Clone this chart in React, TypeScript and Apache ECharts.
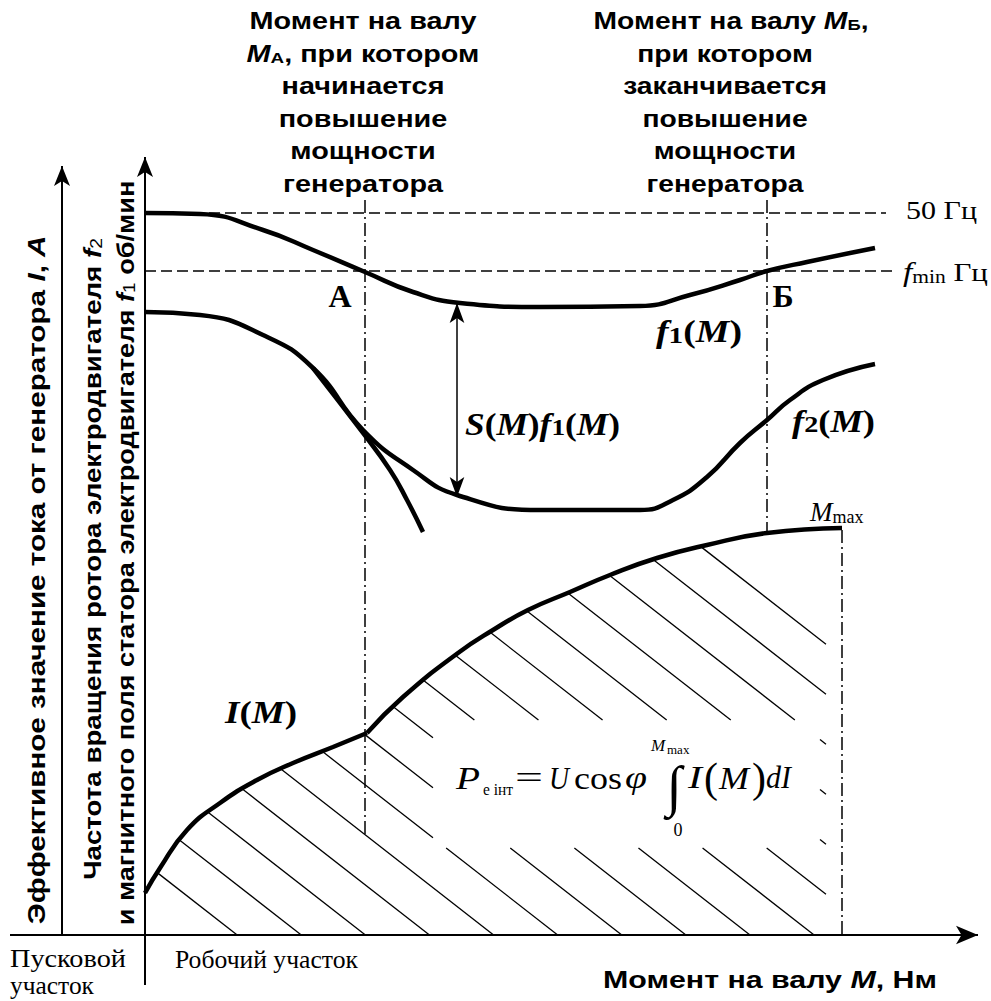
import React, { useEffect, useRef } from "react";
import * as echarts from "echarts";

const W = 991;
const H = 1001;

// ---- layout frame (x: shaft torque M, y: chart level, downward) ----
const AXIS_Y = 935;
const I_AXIS_X = 62;
const F_AXIS_X = 145;
const F50 = 213;
const FMIN = 271;
const M_A = 365;
const M_B = 767;
const M_MAX = 842;

// ---- curves ----
const f1Curve = [
  [145, 213], [200, 214], [263, 230], [313, 250], [365, 272], [413, 292], [460, 303],
  [540, 307], [640, 306], [690, 295], [740, 280], [767, 271], [807, 262], [875, 248],
];
const f2Curve = [
  [145, 312], [200, 315], [263, 335], [313, 368], [363, 430], [413, 470], [457, 495],
  [540, 510], [640, 510], [673, 500], [707, 477], [740, 443], [767, 420], [790, 400],
  [823, 380], [875, 364],
];
const f2Tangent = [[313, 368], [363, 433], [390, 470], [407, 500], [423, 532]];
const iCurveLow = [
  [145, 893], [160, 868], [187, 830], [220, 803], [257, 780], [293, 763], [333, 747], [367, 733],
];
const iCurveHigh = [
  [367, 733], [403, 697], [458, 653], [493, 630], [528, 610], [570, 592], [610, 575],
  [657, 558], [707, 545], [767, 533], [842, 528],
];

// ---- hatching of the area under I(M) ----
const HATCH_SLOPE = 0.78;
const HATCH_OFFSETS = [750, 700, 650, 600, 550, 500, 450, 400, 350, 300, 250, 200, 150, 100, 50, 0];
const HATCH_RIGHT = 826;
const FORMULA_BOX = [433, 720, 820, 848];

const SANS = '"Liberation Sans", Arial, sans-serif';
const SERIF = '"Liberation Serif", "Times New Roman", serif';

function hatchSegments() {
  const curve = iCurveLow.concat(iCurveHigh.slice(1));
  const segs: number[][] = [];
  for (const c of HATCH_OFFSETS) {
    let xs: number | null = null;
    for (let i = 0; i < curve.length - 1; i++) {
      const [x0, y0] = curve[i];
      const [x1, y1] = curve[i + 1];
      const d0 = HATCH_SLOPE * x0 + c - y0;
      const d1 = HATCH_SLOPE * x1 + c - y1;
      if (d0 <= 0 && d1 >= 0 && d0 !== d1) {
        xs = x0 + (d0 / (d0 - d1)) * (x1 - x0);
        break;
      }
    }
    if (xs === null) continue;
    const xe = Math.min((AXIS_Y - c) / HATCH_SLOPE, HATCH_RIGHT);
    if (xe <= xs) continue;
    const [bx0, by0, bx1, by1] = FORMULA_BOX;
    const ca = Math.max(bx0, (by0 - c) / HATCH_SLOPE);
    const cb = Math.min(bx1, (by1 - c) / HATCH_SLOPE);
    const pieces: number[][] = [];
    if (ca < cb && cb > xs && ca < xe) {
      if (ca > xs) pieces.push([xs, ca]);
      if (cb < xe) pieces.push([cb, xe]);
    } else pieces.push([xs, xe]);
    for (const [a, b] of pieces) segs.push([a, HATCH_SLOPE * a + c, b, HATCH_SLOPE * b + c]);
  }
  return segs;
}

// ---- text helpers ----
type St = { fontSize: number; fontFamily: string; fontWeight?: string; fontStyle?: string; verticalAlign?: string };
type Tok = { t: string; st?: string };

let measureCtx: CanvasRenderingContext2D | null = null;
function fontOf(s: St) {
  return `${s.fontStyle || "normal"} ${s.fontWeight || "normal"} ${s.fontSize}px ${s.fontFamily}`;
}
function measure(toks: Tok[], base: St, rich: Record<string, St>) {
  if (!measureCtx) measureCtx = document.createElement("canvas").getContext("2d");
  let w = 0;
  for (const tk of toks) {
    const s = tk.st ? rich[tk.st] : base;
    measureCtx!.font = fontOf(s);
    w += measureCtx!.measureText(tk.t).width;
  }
  return w;
}
function richStyles(r: Record<string, St>) {
  const out: any = {};
  for (const k of Object.keys(r)) out[k] = { ...r[k], fill: "#000", verticalAlign: r[k].verticalAlign || "bottom" };
  return out;
}
function textEl(o: {
  x: number; y: number; toks: Tok[]; base: St; rich?: Record<string, St>;
  align?: string; rotation?: number; width?: number; scaleX?: number;
}) {
  const rich = o.rich || {};
  let scaleX = o.scaleX || 1;
  if (o.width) scaleX = o.width / measure(o.toks, o.base, rich);
  return {
    type: "text",
    x: o.x,
    y: o.y,
    rotation: o.rotation || 0,
    scaleX,
    z: 50,
    silent: true,
    style: {
      text: o.toks.map((t) => (t.st ? `{${t.st}|${t.t}}` : t.t)).join(""),
      rich: richStyles(rich),
      fill: "#000",
      fontSize: o.base.fontSize,
      fontFamily: o.base.fontFamily,
      fontWeight: o.base.fontWeight || "normal",
      fontStyle: o.base.fontStyle || "normal",
      align: o.align || "left",
      verticalAlign: "middle",
    },
  };
}

// ---- text content ----
const topLeftLines: Tok[][] = [
  [{ t: "Момент на валу" }],
  [{ t: "M", st: "bi" }, { t: "А", st: "sub" }, { t: ", при котором" }],
  [{ t: "начинается" }],
  [{ t: "повышение" }],
  [{ t: "мощности" }],
  [{ t: "генератора" }],
];
const topRightLines: Tok[][] = [
  [{ t: "Момент на валу " }, { t: "M", st: "bi" }, { t: "Б", st: "sub" }, { t: "," }],
  [{ t: "при котором" }],
  [{ t: "заканчивается" }],
  [{ t: "повышение" }],
  [{ t: "мощности" }],
  [{ t: "генератора" }],
];
const TOP_LINE_Y = [21, 54, 86, 119, 151, 184];
const axisTitleI: Tok[] = [
  { t: "Эффективное значение тока от генератора " }, { t: "I", st: "bi" }, { t: ", " }, { t: "A", st: "bi" },
];
const axisTitleF2: Tok[] = [
  { t: "Частота вращения ротора электродвигателя " }, { t: "f", st: "bi" }, { t: "2", st: "sub" },
];
const axisTitleF1: Tok[] = [
  { t: "и магнитного поля статора электродвигателя " }, { t: "f", st: "bi" }, { t: "1", st: "sub" }, { t: " об/мин" },
];
const axisTitleM: Tok[] = [{ t: "Момент на валу " }, { t: "M", st: "bi" }, { t: ", Нм" }];

function buildGraphics() {
  const sansB: St = { fontSize: 23, fontFamily: SANS, fontWeight: "bold" };
  const sansRich: Record<string, St> = {
    bi: { fontSize: 23, fontFamily: SANS, fontWeight: "bold", fontStyle: "italic" },
    sub: { fontSize: 15, fontFamily: SANS, fontWeight: "bold" },
  };
  const els: any[] = [];
  const sL = 227 / measure(topLeftLines[0], sansB, sansRich);
  topLeftLines.forEach((toks, i) =>
    els.push(textEl({ x: 363, y: TOP_LINE_Y[i], toks, base: sansB, rich: sansRich, align: "center", scaleX: sL }))
  );
  const sR = 275 / measure(topRightLines[0], sansB, sansRich);
  topRightLines.forEach((toks, i) =>
    els.push(textEl({ x: i === 0 ? 731 : 725, y: TOP_LINE_Y[i], toks, base: sansB, rich: sansRich, align: "center", scaleX: sR }))
  );

  const vB: St = { fontSize: 23, fontFamily: SANS, fontWeight: "bold" };
  const vRich: Record<string, St> = {
    bi: { fontSize: 23, fontFamily: SANS, fontWeight: "bold", fontStyle: "italic" },
    sub: { fontSize: 16, fontFamily: SANS, fontWeight: "normal" },
  };
  els.push(textEl({ x: 37, y: 580, toks: axisTitleI, base: vB, rich: vRich, align: "center", rotation: Math.PI / 2, width: 689 }));
  els.push(textEl({ x: 93, y: 559, toks: axisTitleF2, base: vB, rich: vRich, align: "center", rotation: Math.PI / 2, width: 642 }));
  els.push(textEl({ x: 126, y: 553, toks: axisTitleF1, base: vB, rich: vRich, align: "center", rotation: Math.PI / 2, width: 745 }));

  const mB: St = { fontSize: 23, fontFamily: SANS, fontWeight: "bold" };
  els.push(textEl({ x: 770, y: 980, toks: axisTitleM, base: mB, rich: { bi: { ...mB, fontStyle: "italic" } }, align: "center", width: 334 }));

  const serif26: St = { fontSize: 25, fontFamily: SERIF };
  els.push(textEl({ x: 10, y: 959, toks: [{ t: "Пусковой" }], base: serif26, width: 116 }));
  els.push(textEl({ x: 10, y: 986, toks: [{ t: "участок" }], base: serif26, width: 84 }));
  els.push(textEl({ x: 175, y: 959, toks: [{ t: "Робочий участок" }], base: serif26, width: 183 }));

  // level labels
  els.push(textEl({ x: 906, y: 210, toks: [{ t: "50 Гц" }], base: { fontSize: 26, fontFamily: SERIF }, width: 71 }));
  els.push(textEl({
    x: 903, y: 272,
    toks: [{ t: "f", st: "i" }, { t: "min", st: "sub" }, { t: " Гц" }],
    base: { fontSize: 26, fontFamily: SERIF },
    rich: { i: { fontSize: 28, fontFamily: SERIF, fontStyle: "italic" }, sub: { fontSize: 18, fontFamily: SERIF } },
    width: 85,
  }));

  // point labels
  const pB: St = { fontSize: 32, fontFamily: SERIF, fontWeight: "bold" };
  els.push(textEl({ x: 340, y: 296, toks: [{ t: "А" }], base: pB, align: "center" }));
  els.push(textEl({ x: 783, y: 296, toks: [{ t: "Б" }], base: pB, align: "center" }));

  const lb: St = { fontSize: 31, fontFamily: SERIF, fontWeight: "bold" };
  const lbRich: Record<string, St> = {
    bi: { fontSize: 31, fontFamily: SERIF, fontWeight: "bold", fontStyle: "italic" },
    s: { fontSize: 24, fontFamily: SERIF, fontWeight: "bold" },
  };
  const fn = (n: string): Tok[] => [{ t: "f", st: "bi" }, { t: n, st: "s" }, { t: "(" }, { t: "M", st: "bi" }, { t: ")" }];
  els.push(textEl({ x: 656, y: 331, toks: fn("1"), base: lb, rich: lbRich, width: 86 }));
  els.push(textEl({ x: 465, y: 424, toks: [{ t: "S", st: "bi" }, { t: "(" }, { t: "M", st: "bi" }, { t: ")" }, ...fn("1")], base: lb, rich: lbRich, width: 155 }));
  els.push(textEl({ x: 792, y: 421, toks: fn("2"), base: lb, rich: lbRich, width: 83 }));
  els.push(textEl({ x: 225, y: 713, toks: [{ t: "I", st: "bi" }, { t: "(" }, { t: "M", st: "bi" }, { t: ")" }], base: lb, rich: lbRich, width: 72 }));

  els.push(textEl({
    x: 810, y: 512,
    toks: [{ t: "M", st: "i" }, { t: "max", st: "sub" }],
    base: { fontSize: 26, fontFamily: SERIF },
    rich: { i: { fontSize: 27, fontFamily: SERIF, fontStyle: "italic" }, sub: { fontSize: 18, fontFamily: SERIF } },
  }));

  // formula
  const fi: St = { fontSize: 31, fontFamily: SERIF, fontStyle: "italic" };
  const fr: St = { fontSize: 31, fontFamily: SERIF };
  const FY = 778;
  els.push(textEl({ x: 456, y: FY, toks: [{ t: "P" }], base: fi, width: 24 }));
  els.push(textEl({ x: 483, y: 790, toks: [{ t: "e інт" }], base: { fontSize: 17, fontFamily: SERIF }, width: 30 }));
  els.push(textEl({ x: 515, y: FY, toks: [{ t: "=" }], base: fr, width: 28 }));
  els.push(textEl({ x: 549, y: FY, toks: [{ t: "U" }], base: fi, width: 20 }));
  els.push(textEl({ x: 574, y: FY, toks: [{ t: "cos" }], base: fr, width: 48 }));
  els.push(textEl({ x: 625, y: FY, toks: [{ t: "φ" }], base: fi, width: 22 }));
  els.push(textEl({ x: 674, y: 786, toks: [{ t: "∫" }], base: { fontSize: 56, fontFamily: SERIF }, align: "center" }));
  els.push(textEl({ x: 651, y: 745, toks: [{ t: "M" }], base: { fontSize: 17, fontFamily: SERIF, fontStyle: "italic" } }));
  els.push(textEl({ x: 667, y: 749, toks: [{ t: "max" }], base: { fontSize: 13, fontFamily: SERIF } }));
  els.push(textEl({ x: 678, y: 830, toks: [{ t: "0" }], base: { fontSize: 18, fontFamily: SERIF }, align: "center" }));
  els.push(textEl({ x: 688, y: FY, toks: [{ t: "I" }], base: fi, width: 14 }));
  els.push(textEl({ x: 704, y: FY, toks: [{ t: "(" }], base: { fontSize: 42, fontFamily: SERIF } }));
  els.push(textEl({ x: 719, y: FY, toks: [{ t: "M" }], base: fi, width: 30 }));
  els.push(textEl({ x: 752, y: FY, toks: [{ t: ")" }], base: { fontSize: 42, fontFamily: SERIF } }));
  els.push(textEl({ x: 766, y: FY, toks: [{ t: "dI" }], base: fi, width: 25 }));
  return els;
}

// ---- straight guide segments ----
const AXIS_STYLE = { color: "#000", width: 2, type: "solid" };
const DASH_STYLE = { color: "#000", width: 1.5, type: [11, 5] };
const DASHDOT_STYLE = { color: "#000", width: 1.5, type: [13, 4, 2, 4] };
const THIN_STYLE = { color: "#000", width: 1.5, type: "solid" };

function seg(a: number[], b: number[], lineStyle: any, s0 = "none", s1 = "none", size: number[] = [12, 18]) {
  return [
    { coord: a, symbol: s0, symbolSize: size, lineStyle },
    { coord: b, symbol: s1, symbolSize: size, lineStyle },
  ];
}

function buildOption() {
  const curveStyle = { color: "#000", width: 4.5 };
  const lineSeries = (name: string, data: number[][], smooth = 0.5) => ({
    name,
    type: "line",
    data,
    smooth,
    symbol: "none",
    lineStyle: curveStyle,
    z: 5,
    silent: true,
  });
  return {
    animation: false,
    grid: { left: 0, right: 0, top: 0, bottom: 0, containLabel: false },
    xAxis: { type: "value", min: 0, max: W, show: false },
    yAxis: { type: "value", min: 0, max: H, inverse: true, show: false },
    series: [
      {
        name: "hatch",
        type: "custom",
        data: hatchSegments(),
        encode: { x: [0, 2], y: [1, 3] },
        silent: true,
        z: 2,
        renderItem: (_p: any, api: any) => {
          const a = api.coord([api.value(0), api.value(1)]);
          const b = api.coord([api.value(2), api.value(3)]);
          return {
            type: "line",
            shape: { x1: a[0], y1: a[1], x2: b[0], y2: b[1] },
            style: { stroke: "#000", lineWidth: 1.3 },
          };
        },
      },
      lineSeries("f1", f1Curve),
      lineSeries("f2", f2Curve),
      lineSeries("f2 tangent", f2Tangent),
      lineSeries("I low", iCurveLow),
      lineSeries("I high", iCurveHigh),
      {
        name: "guides",
        type: "line",
        data: [[0, 0]],
        symbol: "none",
        lineStyle: { opacity: 0 },
        silent: true,
        z: 3,
        markLine: {
          silent: true,
          animation: false,
          label: { show: false },
          emphasis: { disabled: true },
          data: [
            seg([10, AXIS_Y], [978, AXIS_Y], AXIS_STYLE, "none", "arrow", [14, 22]),
            seg([I_AXIS_X, AXIS_Y], [I_AXIS_X, 166], AXIS_STYLE, "none", "arrow", [12, 20]),
            seg([F_AXIS_X, 985], [F_AXIS_X, 157], AXIS_STYLE, "none", "arrow", [12, 20]),
            seg([F_AXIS_X, F50], [886, F50], DASH_STYLE),
            seg([F_AXIS_X, FMIN], [896, FMIN], DASH_STYLE),
            seg([M_A, 200], [M_A, 835], DASHDOT_STYLE),
            seg([M_B, 200], [M_B, 532], DASHDOT_STYLE),
            seg([M_MAX, 530], [M_MAX, AXIS_Y], DASHDOT_STYLE),
            seg([457, 303], [457, 497], THIN_STYLE, "arrow", "arrow", [11, 20]),
          ],
        },
      },
    ],
    graphic: buildGraphics(),
  };
}

export default function App() {
  const ref = useRef<HTMLDivElement>(null);
  useEffect(() => {
    if (!ref.current) return;
    const chart = echarts.init(ref.current, null, { renderer: "svg" });
    chart.setOption(buildOption() as any);
    return () => chart.dispose();
  }, []);
  return (
    <div
      ref={ref}
      style={{ position: "absolute", left: 0, top: 0, width: W, height: H, background: "#fff" }}
    />
  );
}
